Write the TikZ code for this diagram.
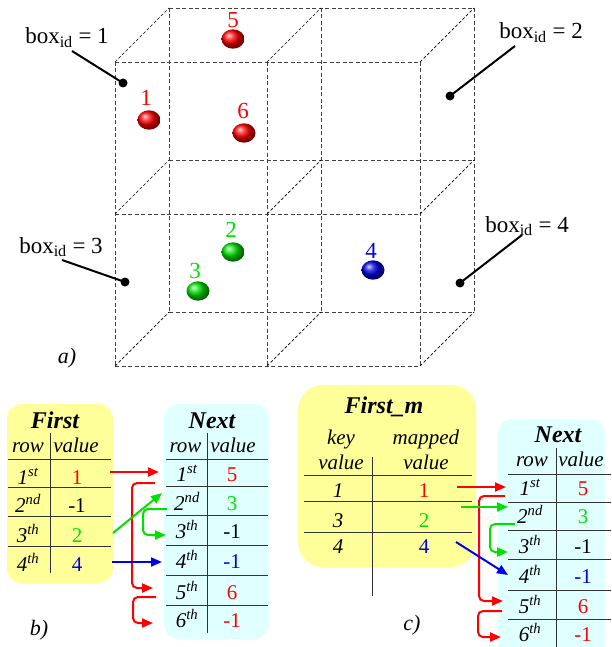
\documentclass[tikz,border=0pt]{standalone}
\usepackage{fontspec}
\setmainfont{Liberation Serif}
\usetikzlibrary{arrows.meta}
\definecolor{ptred}{RGB}{255,0,0}
\definecolor{ptgreen}{RGB}{0,225,0}
\definecolor{ptblue}{RGB}{0,0,230}
\definecolor{ptyellow}{RGB}{255,255,153}
\definecolor{ptcyan}{RGB}{224,255,255}
\tikzset{
	cubeline/.style={dash pattern=on 4pt off 2.5pt, line width=0.9pt, black!75},
	depthline/.style={dash pattern=on 3pt off 2pt, line width=0.7pt, black},
	boxlabel/.style={anchor=base, inner sep=0pt, font=\fontsize{23}{27}\selectfont},
	leaderdot/.style={circle, fill=black, inner sep=0pt, minimum size=9pt},
	leader/.style={line width=2pt},
	balllabel/.style={anchor=base, inner sep=0pt, font=\fontsize{23}{27}\selectfont},
	panel/.style={rounded corners=15pt, inner sep=0pt},
	celltext/.style={anchor=base, inner sep=0pt, font=\fontsize{21}{25}\selectfont},
	tabtitle/.style={anchor=base, inner sep=0pt, font=\fontsize{24}{28}\selectfont\bfseries\itshape},
	tabline/.style={line width=0.8pt, black!80},
	link/.style={line width=2pt, rounded corners=5pt, -{Triangle[length=11pt,width=9pt]}},
	partlabel/.style={anchor=base, inner sep=0pt, font=\fontsize{22}{26}\selectfont\itshape},
}
\begin{document}
\begin{tikzpicture}[x=1pt, y=-1pt]
	\useasboundingbox (0,0) rectangle (611,647);
	\foreach \x in {115,267,420} {
		\draw[cubeline] (\x,62) -- (\x,366);
		\draw[cubeline] (\x+54,8) -- (\x+54,312);
	}
	\foreach \y in {62,214,366} {
		\draw[cubeline] (115,\y) -- (420,\y);
		\draw[cubeline] (169,\y-54) -- (474,\y-54);
	}
	\foreach \x in {115,267,420}
		\foreach \y in {62,214,366}
			\draw[depthline] (\x,\y) -- ++(54,-54);

	\shade[ball color=ptred] (233,39) ellipse [x radius=11.5pt, y radius=9.7pt];
	\shade[ball color=ptred] (149,120) ellipse [x radius=11.5pt, y radius=9.7pt];
	\shade[ball color=ptred] (244,133) ellipse [x radius=11.5pt, y radius=9.7pt];
	\shade[ball color=ptgreen] (233,252) ellipse [x radius=11.5pt, y radius=9.7pt];
	\shade[ball color=ptgreen] (198,291) ellipse [x radius=11.5pt, y radius=9.7pt];
	\shade[ball color=ptblue] (373,270) ellipse [x radius=11.5pt, y radius=9.7pt];
	\node (Ball5) at (233,28) [balllabel, text=ptred] {5};
	\node (Ball1) at (146,106) [balllabel, text=ptred] {1};
	\node (Ball6) at (243,119) [balllabel, text=ptred] {6};
	\node (Ball2) at (231,237) [balllabel, text=ptgreen] {2};
	\node (Ball3) at (195,278) [balllabel, text=ptgreen] {3};
	\node (Ball4) at (371,258) [balllabel, text=ptblue] {4};

	\node (Box1) at (67,44) [boxlabel] {box\textsubscript{id} = 1};
	\node (Box2) at (541,39) [boxlabel] {box\textsubscript{id} = 2};
	\node (Box3) at (61,253) [boxlabel] {box\textsubscript{id} = 3};
	\node (Box4) at (527,232) [boxlabel] {box\textsubscript{id} = 4};
	\node (Dot1) at (123,83) [leaderdot] {};
	\node (Dot2) at (450,96) [leaderdot] {};
	\node (Dot3) at (125,282) [leaderdot] {};
	\node (Dot4) at (460,283) [leaderdot] {};
	\coordinate (Tail1) at (72,51);
	\coordinate (Tail2) at (515,46);
	\coordinate (Tail3) at (62,260);
	\coordinate (Tail4) at (522,235);
	\foreach \i in {1,2,3,4}
		\draw[leader] (Tail\i) -- (Dot\i.center);
	\node (PartA) at (67,363) [partlabel] {a)};

	\node (FirstB) at (60,493.5) [panel, fill=ptyellow, minimum width=106pt, minimum height=179pt] {};
	\node (NextB) at (216.5,521.5) [panel, fill=ptcyan, minimum width=105pt, minimum height=235pt] {};
	\node (FirstC) at (387,476) [panel, rounded corners=25pt, fill=ptyellow, minimum width=178pt, minimum height=182pt] {};
	\node (NextC) at (551.5,539.5) [panel, fill=ptcyan, minimum width=107pt, minimum height=241pt] {};

	\foreach \y in {459,487,516,546}
		\draw[tabline] (8,\y) -- (111,\y);
	\draw[tabline] (50,433) -- (50,573);
	\foreach \y in {459,486,515,545,575,605}
		\draw[tabline] (166,\y) -- (268,\y);
	\draw[tabline] (207,433) -- (207,633);
	\foreach \y in {475,501,532}
		\draw[tabline] (304,\y) -- (472,\y);
	\draw[tabline] (372,457) -- (372,596);
	\foreach \y in {474,502,530,559,590,619}
		\draw[tabline] (508,\y) -- (611,\y);
	\draw[tabline] (556,448) -- (556,650);

	\node (FirstBTitle) at (55,428) [tabtitle] {First};
	\node (FirstBRowHead) at (28,452) [celltext] {\textit{row}};
	\node (FirstBValHead) at (76,452) [celltext] {\textit{value}};
	\foreach \n/\lab/\val/\col/\y in {1/1\textsuperscript{st}/1/ptred/484, 2/2\textsuperscript{nd}/-1/black/512, 3/3\textsuperscript{th}/2/ptgreen/542, 4/4\textsuperscript{th}/4/ptblue/571} {
		\node (FirstBRow\n) at (28,\y) [celltext] {\textit{\lab}};
		\node (FirstBVal\n) at (77,\y) [celltext, text=\col] {\val};
	}

	\node (NextBTitle) at (212,428) [tabtitle] {Next};
	\node (NextBRowHead) at (185.5,452) [celltext] {\textit{row}};
	\node (NextBValHead) at (233,452) [celltext] {\textit{value}};
	\foreach \n/\lab/\val/\col/\y in {1/1\textsuperscript{st}/5/ptred/481, 2/2\textsuperscript{nd}/3/ptgreen/510, 3/3\textsuperscript{th}/-1/black/538, 4/4\textsuperscript{th}/-1/ptblue/568, 5/5\textsuperscript{th}/6/ptred/599, 6/6\textsuperscript{th}/-1/ptred/627} {
		\node (NextBRow\n) at (187,\y) [celltext] {\textit{\lab}};
		\node (NextBVal\n) at (232,\y) [celltext, text=\col] {\val};
	}

	\node (FirstCTitle) at (384,413) [tabtitle] {First\_m};
	\node (FirstCKeyHead) at (341,444) [celltext] {\textit{key}};
	\node (FirstCMapHead) at (426,444) [celltext] {\textit{mapped}};
	\node (FirstCKeyHeadB) at (341,469) [celltext] {\textit{value}};
	\node (FirstCMapHeadB) at (426,469) [celltext] {\textit{value}};
	\foreach \n/\key/\val/\col/\y in {1/1/1/ptred/497, 2/3/2/ptgreen/527, 3/4/4/ptblue/553} {
		\node (FirstCKey\n) at (338,\y) [celltext] {\textit{\key}};
		\node (FirstCVal\n) at (424,\y) [celltext, text=\col] {\val};
	}

	\node (NextCTitle) at (558,442) [tabtitle] {Next};
	\node (NextCRowHead) at (532,466) [celltext] {\textit{row}};
	\node (NextCValHead) at (581,466) [celltext] {\textit{value}};
	\foreach \n/\lab/\val/\col/\y in {1/1\textsuperscript{st}/5/ptred/495, 2/2\textsuperscript{nd}/3/ptgreen/523, 3/3\textsuperscript{th}/-1/black/553, 4/4\textsuperscript{th}/-1/ptblue/583, 5/5\textsuperscript{th}/6/ptred/613, 6/6\textsuperscript{th}/-1/ptred/641} {
		\node (NextCRow\n) at (530,\y) [celltext] {\textit{\lab}};
		\node (NextCVal\n) at (583,\y) [celltext, text=\col] {\val};
	}

	\node (PartB) at (39,635) [partlabel] {b)};
	\node (PartC) at (412,630) [partlabel] {c)};

	\coordinate (FirstBOut1) at (110,472);
	\coordinate (FirstBOut3) at (113,533);
	\coordinate (FirstBOut4) at (112,562);
	\coordinate (NextBIn1) at (159,472);
	\coordinate (NextBIn2) at (162,493);
	\coordinate (NextBIn3) at (166,535);
	\coordinate (NextBIn4) at (162,562);
	\coordinate (NextBIn5) at (153,588);
	\coordinate (NextBIn6) at (153,623);
	\coordinate (NextBOut1) at (155,483);
	\coordinate (NextBOut2) at (167,509);
	\coordinate (NextBOut5) at (156,597);
	\draw[link, ptred] (FirstBOut1) -- (NextBIn1);
	\draw[link, ptred] (NextBOut1) -| (132,540) |- (NextBIn5);
	\draw[link, ptred] (NextBOut5) -| (133,610) |- (NextBIn6);
	\draw[link, ptgreen] (FirstBOut3) -- (NextBIn2);
	\draw[link, ptgreen] (NextBOut2) -| (143,520) |- (NextBIn3);
	\draw[link, ptblue] (FirstBOut4) -- (NextBIn4);

	\coordinate (FirstCOut1) at (457,487);
	\coordinate (FirstCOut2) at (461,507);
	\coordinate (FirstCOut3) at (456,542);
	\coordinate (NextCIn1) at (506,487);
	\coordinate (NextCIn2) at (508,507);
	\coordinate (NextCIn3) at (508,552);
	\coordinate (NextCIn4) at (508,575);
	\coordinate (NextCIn5) at (503,601);
	\coordinate (NextCIn6) at (501,637);
	\coordinate (NextCOut1) at (505,496);
	\coordinate (NextCOut2) at (515,524);
	\coordinate (NextCOut5) at (502,611);
	\draw[link, ptred] (FirstCOut1) -- (NextCIn1);
	\draw[link, ptred] (NextCOut1) -| (479,550) |- (NextCIn5);
	\draw[link, ptred] (NextCOut5) -| (478,625) |- (NextCIn6);
	\draw[link, ptgreen] (FirstCOut2) -- (NextCIn2);
	\draw[link, ptgreen] (NextCOut2) -| (490,540) |- (NextCIn3);
	\draw[link, ptblue] (FirstCOut3) -- (NextCIn4);
\end{tikzpicture}
\end{document}
